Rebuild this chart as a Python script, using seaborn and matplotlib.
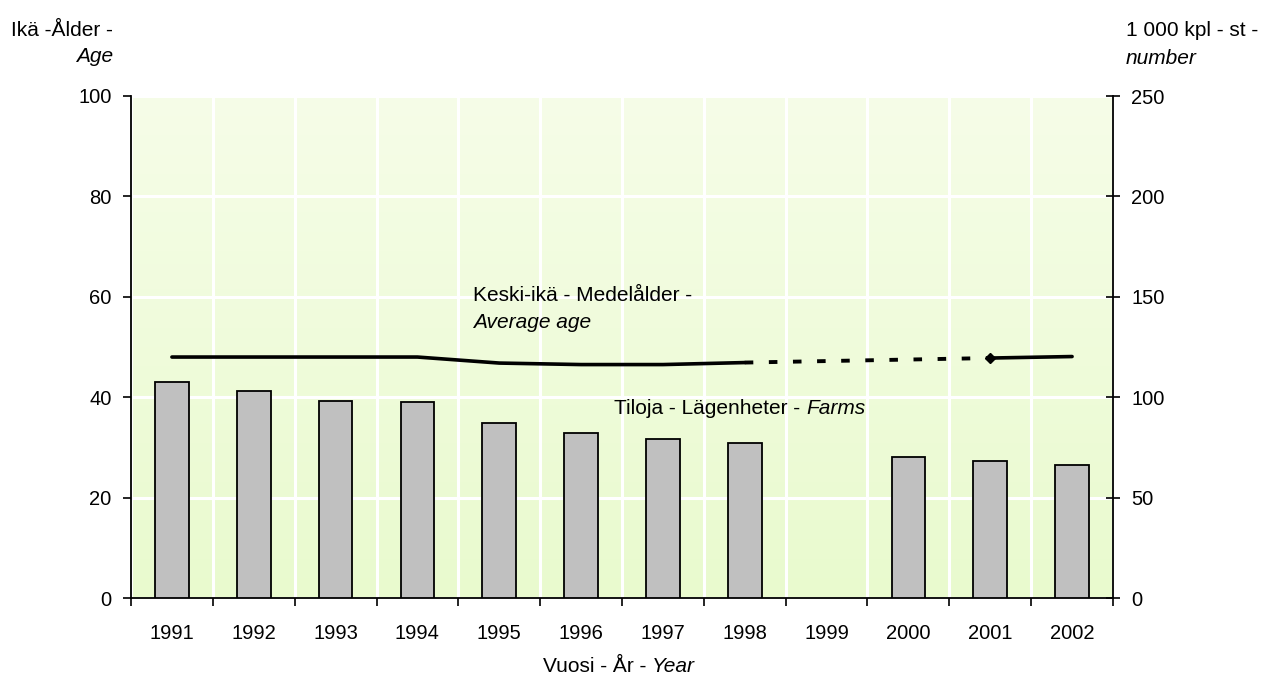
import numpy as np
import pandas as pd
import matplotlib
matplotlib.use("Agg")
import matplotlib.pyplot as plt
import seaborn as sns

# ---- data -------------------------------------------------------------
years = ["1991", "1992", "1993", "1994", "1995", "1996",
         "1997", "1998", "1999", "2000", "2001", "2002"]
farms_thousands = [107.4, 103.2, 98.3, 97.5, 87.3, 82.3,
                   79.3, 77.3, np.nan, 70.4, 68.2, 66.2]
average_age = [48.0, 48.0, 48.0, 48.0, 46.8, 46.5,
               46.5, 46.9, np.nan, np.nan, 47.8, 48.1]
age_ticks = [0, 20, 40, 60, 80, 100]
count_ticks = [0, 50, 100, 150, 200, 250]

# ---- style ------------------------------------------------------------
sns.set_theme(style="white")
plt.rcParams["font.family"] = ["Liberation Sans", "DejaVu Sans"]
plt.rcParams["text.color"] = "black"
plt.rcParams["xtick.color"] = "black"
plt.rcParams["ytick.color"] = "black"
FS = 15      # annotation / axis title size
TFS = 14.5   # tick label size

W, H = 1263, 675
fig = plt.figure(figsize=(W / 100, H / 100), dpi=100)
x0, x1, y0, y1 = 131, 1113, 96, 598
ax = fig.add_axes([x0 / W, 1 - y1 / H, (x1 - x0) / W, (y1 - y0) / H])

n = len(years)
pos = np.arange(n)

# gradient background of the plot area
top_c = np.array([246, 253, 232]) / 255
bot_c = np.array([233, 250, 206]) / 255
t = np.linspace(0, 1, 256)[:, None]
grad = (top_c * (1 - t) + bot_c * t)[:, None, :]
ax.imshow(grad, extent=[-0.5, n - 0.5, 0, 100], aspect="auto",
          origin="upper", zorder=0, interpolation="bilinear")

ax.set_xlim(-0.5, n - 0.5)
ax.set_ylim(0, 100)
ax.set_yticks(age_ticks)
ax.set_yticklabels([str(v) for v in age_ticks], fontsize=TFS)
ax.set_axisbelow(True)

# ---- bars: farms (right axis) -----------------------------------------
ax2 = ax.twinx()
df = pd.DataFrame({"year": years, "farms": farms_thousands})
sns.barplot(data=df, x="year", y="farms", order=years, ax=ax2,
            color="#C0C0C0", saturation=1, width=0.41,
            edgecolor="black", linewidth=1.3, zorder=3)
ax2.set_ylim(0, 250)
ax2.set_yticks(count_ticks)
ax2.set_yticklabels([str(v) for v in count_ticks], fontsize=TFS)
ax2.set_ylabel("")
ax2.set_xlabel("")
ax2.grid(False)

# ---- line: average age ------------------------------------------------
ax3 = ax.twinx()
ax3.set_ylim(0, 100)
ax3.set_xlim(-0.5, n - 0.5)
ax3.axis("off")
age = np.array(average_age, dtype=float)
valid = ~np.isnan(age)
# solid runs of consecutive observations
run = []
for i in range(n):
    if valid[i]:
        run.append(i)
    if (not valid[i] or i == n - 1) and run:
        sns.lineplot(x=pos[run], y=age[run], ax=ax3, color="black",
                     linewidth=2.6, solid_capstyle="round", legend=False)
        run = []
# dashed bridge over the missing years
vi = np.where(valid)[0]
for a, b in zip(vi[:-1], vi[1:]):
    if b - a > 1:
        ax3.plot([pos[a], pos[b]], [age[a], age[b]], color="black",
                 linewidth=2.8, linestyle=(0, (2.2, 4.0)),
                 dash_capstyle="butt")
        ax3.plot([pos[b]], [age[b]], marker="D", markersize=5,
                 color="black")

# ---- axes decoration ---------------------------------------------------
for a in (ax, ax2):
    for s in a.spines.values():
        s.set_visible(False)
ax.spines["left"].set_visible(True)
ax.spines["bottom"].set_visible(True)
ax2.spines["right"].set_visible(True)
for s in (ax.spines["left"], ax.spines["bottom"], ax2.spines["right"]):
    s.set_color("black")
    s.set_linewidth(1.3)

ax.set_xticks(np.arange(-0.5, n, 1.0))
ax.set_xticklabels([])
ax.set_xticks(pos, minor=True)
ax.set_xticklabels(years, minor=True, fontsize=TFS)
ax.tick_params(axis="x", which="major", direction="out", length=6,
               width=1.2, color="black", bottom=True)
ax.tick_params(axis="x", which="minor", length=0, pad=19)
ax.tick_params(axis="y", direction="out", length=6, width=1.2,
               color="black", left=True, pad=8)
ax2.tick_params(axis="y", direction="inout", length=10, width=1.2,
                color="black", right=True, pad=8)
ax.grid(True, which="major", axis="both", color="white", linewidth=2.2)
ax.grid(False, which="minor")

# ---- texts --------------------------------------------------------------
def fx(px):
    return px / W

def fy(py):
    return 1 - py / H

fig.text(fx(113), fy(30), "Ikä -Ålder -", ha="right", va="center", fontsize=FS)
fig.text(fx(113), fy(57), "Age", ha="right", va="center", fontsize=FS,
         style="italic")
fig.text(fx(1126), fy(30), "1 000 kpl - st -", ha="left", va="center",
         fontsize=FS)
fig.text(fx(1126), fy(58), "number", ha="left", va="center", fontsize=FS,
         style="italic")

fig.text(fx(473), fy(295), "Keski-ikä - Medelålder -", ha="left",
         va="center", fontsize=FS)
fig.text(fx(473), fy(322), "Average age", ha="left", va="center",
         fontsize=FS, style="italic")

t1 = fig.text(fx(614), fy(408), "Tiloja - Lägenheter - ", ha="left",
              va="center", fontsize=FS)
ax.annotate("Farms", xy=(1, 0.5), xycoords=t1, va="center", ha="left",
            fontsize=FS, style="italic", annotation_clip=False)

t2 = fig.text(fx(543), fy(667), "Vuosi - År - ", ha="left", va="center",
              fontsize=FS)
ax.annotate("Year", xy=(1, 0.5), xycoords=t2, va="center", ha="left",
            fontsize=FS, style="italic", annotation_clip=False)

fig.savefig("out.png", dpi=100, facecolor="white")
